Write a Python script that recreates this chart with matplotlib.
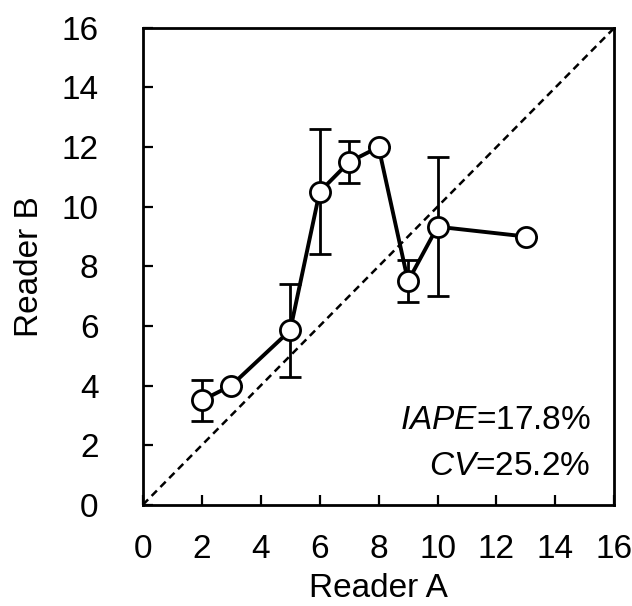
import matplotlib
matplotlib.use("Agg")
import matplotlib.pyplot as plt

plt.rcParams['font.family'] = ['Liberation Sans', 'DejaVu Sans']
plt.rcParams['mathtext.fontset'] = 'custom'
plt.rcParams['mathtext.rm'] = 'Liberation Sans'
plt.rcParams['mathtext.it'] = 'Liberation Sans:italic'

reader_a = [2, 3, 5, 6, 7, 8, 9, 10, 13]
reader_b = [3.5, 4.0, 5.85, 10.5, 11.5, 12.0, 7.5, 9.33, 9.0]
b_err = [0.7, 0, 1.55, 2.1, 0.7, 0, 0.7, 2.33, 0]
ticks = [0, 2, 4, 6, 8, 10, 12, 14, 16]

fig = plt.figure(figsize=(6.32, 6.06), dpi=100)
ax = fig.add_axes([0.226, 0.167, 0.746, 0.787])

# 1:1 line
ax.plot([0, 16], [0, 16], linestyle=(0, (3, 2)), color='black', linewidth=1.8, zorder=1)
ax.errorbar(reader_a, reader_b, yerr=b_err, fmt='none', ecolor='black',
            elinewidth=2, capsize=8, capthick=2, zorder=2)
ax.plot(reader_a, reader_b, color='black', linewidth=2.8, marker='o',
        markersize=14.5, markerfacecolor='white', markeredgecolor='black',
        markeredgewidth=2, zorder=3)

ax.set_xlim(0, 16)
ax.set_ylim(0, 16)
ax.set_xticks(ticks)
ax.set_yticks(ticks)
ax.tick_params(direction='in', length=7.5, width=1.6, labelsize=24)
ax.tick_params(axis='x', pad=21)
ax.tick_params(axis='y', pad=32)
for s in ax.spines.values():
    s.set_linewidth(2)

ax.set_xlabel('Reader A', fontsize=24, labelpad=6)
ax.set_ylabel('Reader B', fontsize=24, labelpad=12)

ax.text(15.2, 2.55, '$\\mathit{IAPE}$=17.8%', ha='right', va='baseline', fontsize=24)
ax.text(15.2, 1.0, '$\\mathit{CV}$=25.2%', ha='right', va='baseline', fontsize=24)

fig.savefig('out.png', dpi=100)
